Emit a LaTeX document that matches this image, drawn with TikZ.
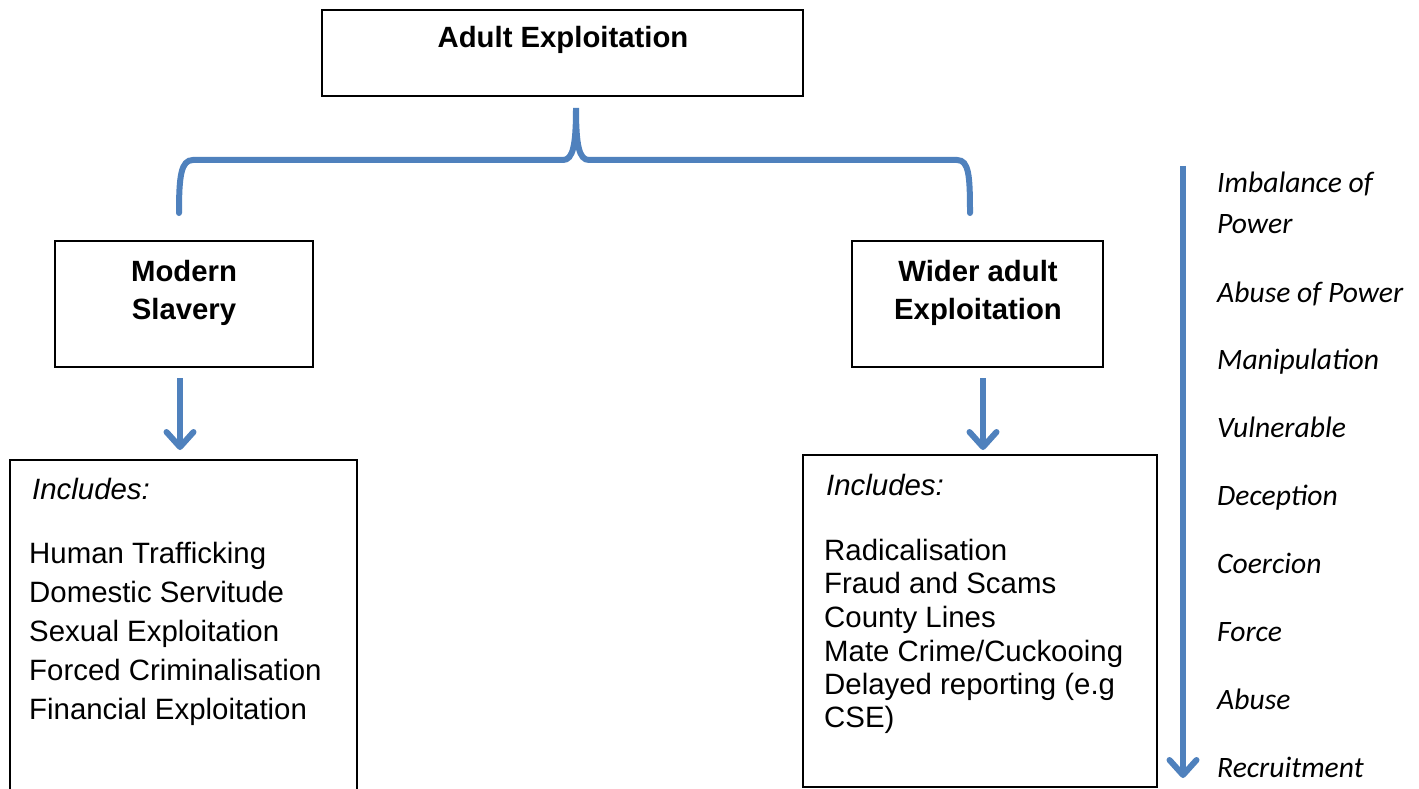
\documentclass[tikz,border=0pt]{standalone}
\usepackage{fontspec}
\setmainfont{Liberation Sans}
\newfontfamily\carl{Carlito}
\usetikzlibrary{arrows.meta}
\definecolor{officeblue}{HTML}{4F81BD}
\tikzset{
  box/.style={draw=black, line width=1.3pt, inner sep=0pt},
  txt/.style={inner sep=0pt, font=\fontsize{29.4}{35}\selectfont},
  ttl/.style={txt, anchor=base, font=\fontsize{29.3}{35}\selectfont\bfseries},
  item/.style={txt, anchor=base west},
  side/.style={inner sep=0pt, anchor=base west, font=\fontsize{29.6}{35}\selectfont\carl\itshape},
  bluearr/.style={draw=officeblue, line width=6pt, -{Straight Barb[length=15pt,width=27pt,round]}},
  brace/.style={draw=officeblue, line width=6pt, line cap=round}
}
\begin{document}
\begin{tikzpicture}[x=1pt,y=-1pt]
\useasboundingbox (0,0) rectangle (1419,789);
\clip (0,0) rectangle (1419,789);
\fill[white] (0,0) rectangle (1419,789);
% boxes
\node[box, minimum width=481, minimum height=86] (top) at (562.5,53) {};
\node[box, minimum width=258, minimum height=126] (ms) at (184,304) {};
\node[box, minimum width=251, minimum height=126] (wa) at (977.5,304) {};
\node[box, minimum width=347, minimum height=360] (lb) at (183.5,640) {};
\node[box, minimum width=354, minimum height=332] (rb) at (980,621) {};
% titles
\node[ttl] (ttop) at (563,48) {Adult Exploitation};
\node[ttl] (tms1) at (184,281) {Modern};
\node[ttl] (tms2) at (184,319) {Slavery};
\node[ttl] (twa1) at (978,281) {Wider adult};
\node[ttl] (twa2) at (978,319) {Exploitation};
% left list
\node[item, font=\fontsize{29.4}{35}\selectfont\itshape] (li0) at (32,499) {Includes:};
\node[item] (li1) at (29,563) {Human Trafficking};
\node[item] (li2) at (29,602) {Domestic Servitude};
\node[item] (li3) at (29,641) {Sexual Exploitation};
\node[item] (li4) at (29,680) {Forced Criminalisation};
\node[item] (li5) at (29,719) {Financial Exploitation};
% right list
\node[item, font=\fontsize{29.4}{35}\selectfont\itshape] (ri0) at (826,495) {Includes:};
\node[item] (ri1) at (824,560) {Radicalisation};
\node[item] (ri2) at (824,593) {Fraud and Scams};
\node[item] (ri3) at (824,627) {County Lines};
\node[item] (ri4) at (824,661) {Mate Crime/Cuckooing};
\node[item] (ri5) at (824,694) {Delayed reporting (e.g};
\node[item] (ri6) at (824,727) {CSE)};
% side list
\node[side] (s1) at (1217,192) {Imbalance of};
\node[side] (s2) at (1217,233) {Power};
\node[side] (s3) at (1217,302) {Abuse of Power};
\node[side] (s4) at (1217,369) {Manipulation};
\node[side] (s5) at (1217,437) {Vulnerable};
\node[side] (s6) at (1217,505) {Deception};
\node[side] (s7) at (1217,573) {Coercion};
\node[side] (s8) at (1217,641) {Force};
\node[side] (s9) at (1217,709) {Abuse};
\node[side] (s10) at (1217,777) {Recruitment};
% brace
\coordinate (bl) at (179,213);
\coordinate (br) at (970,213);
\coordinate (bt) at (576,108);
\draw[brace] (bl) .. controls (179,176) and (181,160) .. (193,160) -- (563,160)
  .. controls (573,160) and (576,145) .. (bt)
  .. controls (576,145) and (579,160) .. (589,160) -- (957,160)
  .. controls (969,160) and (970,176) .. (br);
% arrows
\coordinate (a1s) at (180,378);
\coordinate (a1e) at (180,450);
\coordinate (a2s) at (983,378);
\coordinate (a2e) at (983,450);
\coordinate (vs) at (1183,166);
\coordinate (ve) at (1183,778);
\draw[bluearr] (a1s) -- (a1e);
\draw[bluearr] (a2s) -- (a2e);
\draw[bluearr] (vs) -- (ve);
\end{tikzpicture}
\end{document}
